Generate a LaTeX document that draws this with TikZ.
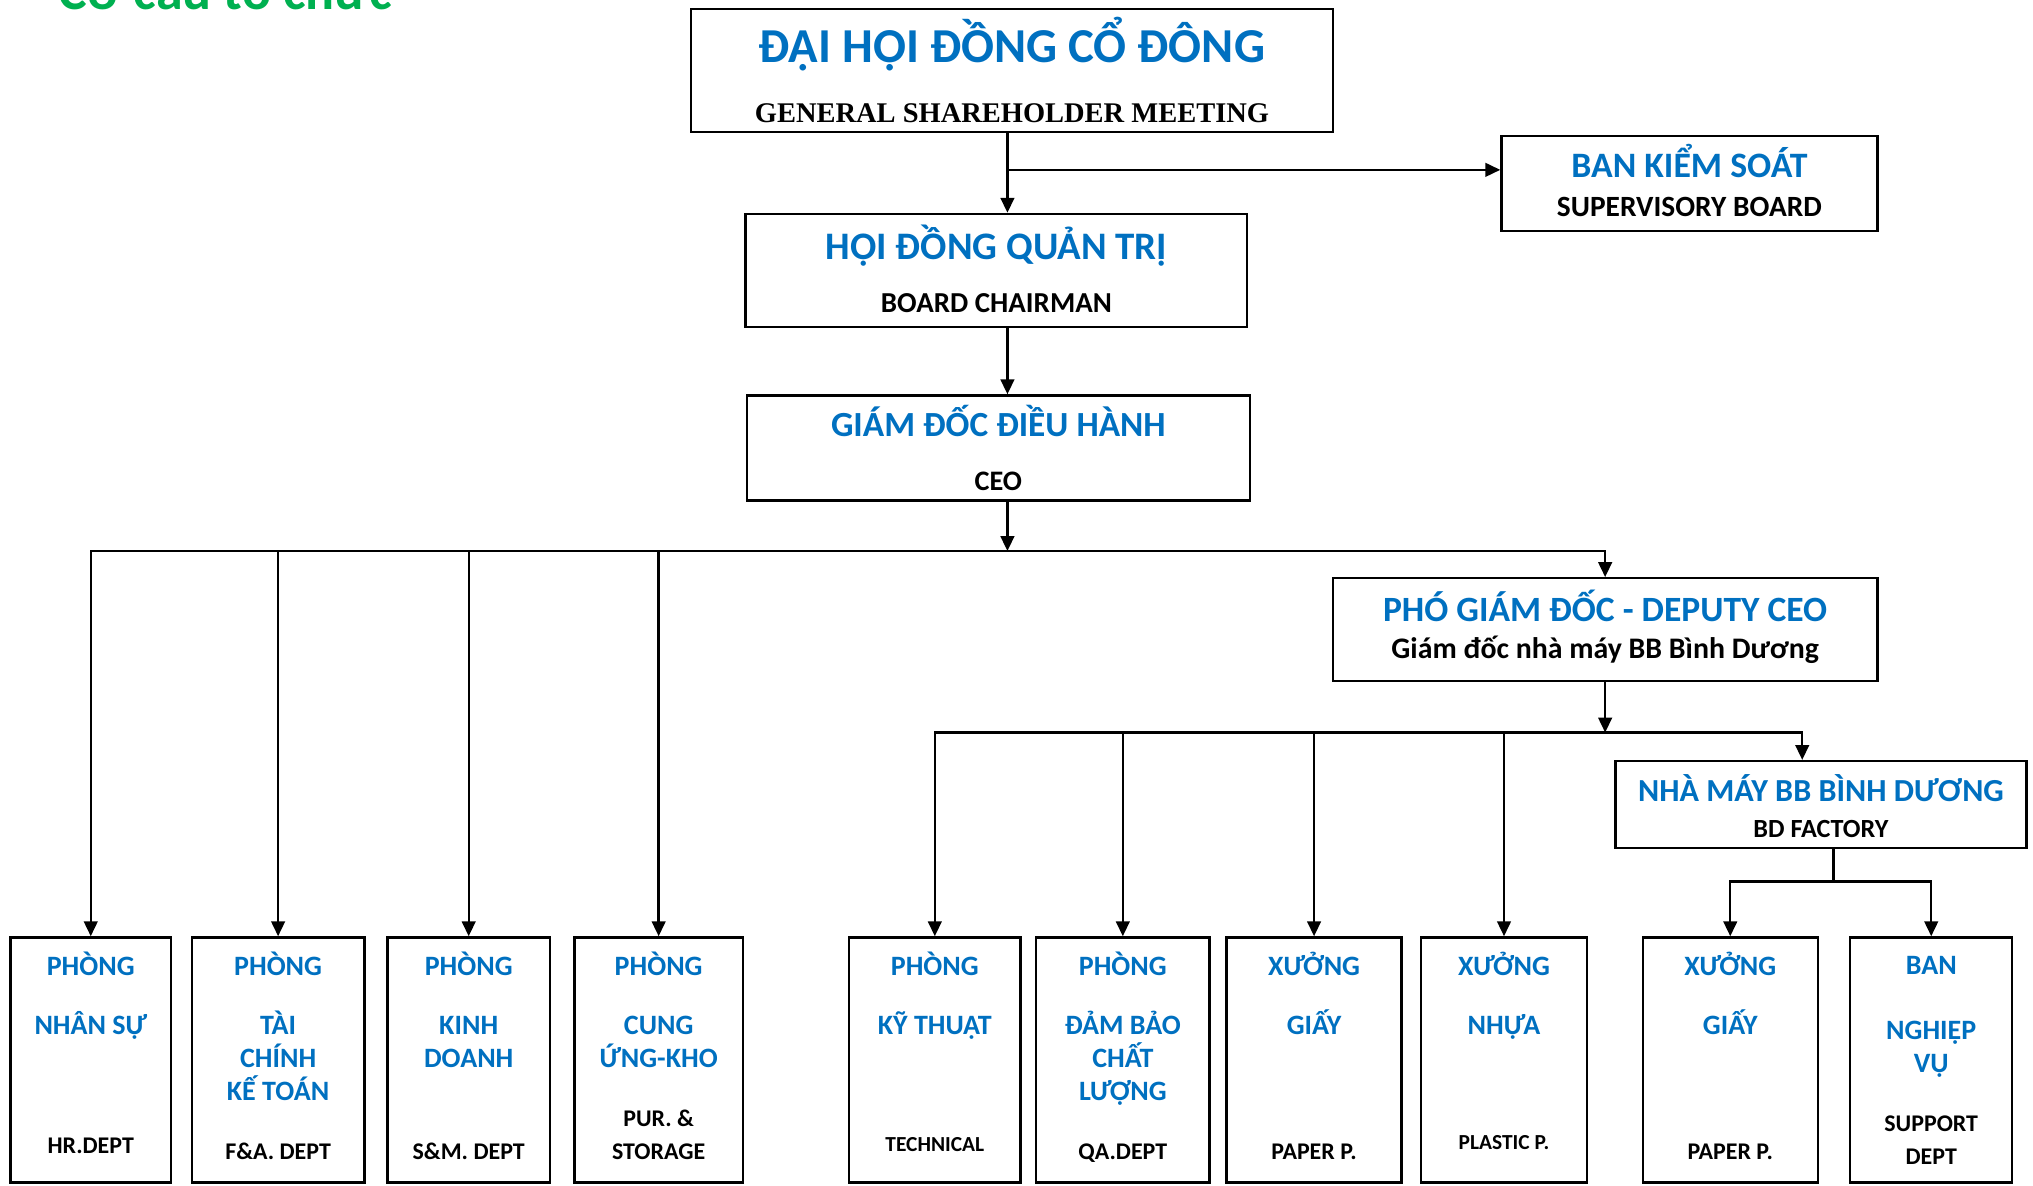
\documentclass[tikz,border=0pt]{standalone}
\usepackage{fontspec}
\setmainfont{Carlito}
\newfontfamily\gsmserif{Liberation Serif}
\usepackage{xcolor}
\usetikzlibrary{arrows.meta,positioning}
\definecolor{hdblue}{RGB}{0,112,192}
\definecolor{hdgreen}{RGB}{0,176,80}

% text block of a box: top part, \vfill, bottom part
\newcommand{\inbox}[4]{\vbox to #2{\hsize=#1\parskip=0pt\centering #3\par\vfill #4\par\kern0pt}}
\newcommand{\upstrut}[1]{\rule{0pt}{#1}}
\newcommand{\dnstrut}[1]{\rule[-#1]{0pt}{#1}}
\newcommand{\bluefont}[1]{\fontsize{#1}{14.5}\selectfont\bfseries\color{hdblue}}
\newcommand{\engfont}[1]{\fontsize{#1}{14.6}\selectfont\bfseries\color{black}}

\begin{document}
\begin{tikzpicture}[
		x=0.02cm, y=-0.02cm,
		>={Triangle[length=2.3mm,width=2.1mm]},
		org/.style={draw, line width=1.05pt, inner sep=0pt},
		flow/.style={->, line width=1.05pt},
		link/.style={line width=1.05pt}
		]
		\useasboundingbox (0,0) rectangle (1568,914);
		\node[anchor=base west, inner sep=0pt, text=hdgreen, font=\fontsize{23.7}{25}\selectfont\bfseries] (title) at (45,7) {Cơ cấu tổ chức};
		
		% top of the chart
		\node[org, minimum width=9.9cm] (gsm) at (780.5,54.5) {\inbox{9.5cm}{1.9cm}{\upstrut{0.82cm}\bluefont{21.4}\smash{ĐẠI HỘI ĐỒNG CỔ ĐÔNG}}{\engfont{12.5}\gsmserif GENERAL SHAREHOLDER MEETING\dnstrut{0.15cm}}};
		\node[org, minimum width=5.8cm] (sup) at (1303,141.5) {\inbox{5.5cm}{1.46cm}{\upstrut{0.64cm}\bluefont{15.7}\smash{BAN KIỂM SOÁT}}{\engfont{12.9}SUPERVISORY BOARD\dnstrut{0.22cm}}};
		\node[org, minimum width=7.74cm] (hdqt) at (768.5,208.5) {\inbox{7.4cm}{1.74cm}{\upstrut{0.7cm}\bluefont{17.1}\smash{HỘI ĐỒNG QUẢN TRỊ}}{\engfont{12.7}BOARD CHAIRMAN\dnstrut{0.22cm}}};
		\node[org, minimum width=7.76cm] (ceo) at (770,345.5) {\inbox{7.4cm}{1.62cm}{\upstrut{0.64cm}\bluefont{15.5}\smash{GIÁM ĐỐC ĐIỀU HÀNH}}{\engfont{12.4}CEO\dnstrut{0.16cm}}};
		\node[org, minimum width=8.4cm] (dep) at (1238,485.5) {\inbox{8.1cm}{1.58cm}{\upstrut{0.66cm}\bluefont{15.6}\smash{PHÓ GIÁM ĐỐC - DEPUTY CEO}}{\engfont{13.1}Giám đốc nhà máy BB Bình Dương\dnstrut{0.34cm}}};
		\node[org, minimum width=6.34cm] (fac) at (1404.5,620.5) {\inbox{6.1cm}{1.34cm}{\upstrut{0.62cm}\bluefont{14.1}\smash{NHÀ MÁY BB BÌNH DƯƠNG}}{\engfont{11.5}BD FACTORY\dnstrut{0.16cm}}};
		
		% departments
		\node[org, minimum width=2.48cm] (hr) at (70,817.5) {\inbox{2.3cm}{3.78cm}{\upstrut{0.58cm}\bluefont{12.3}\smash{PHÒNG}\\[11.7pt]NHÂN SỰ}{\engfont{10.5}HR.DEPT\dnstrut{0.45cm}}};
		\node[org, minimum width=2.66cm] (fa) at (214.5,817.5) {\inbox{2.3cm}{3.78cm}{\upstrut{0.58cm}\bluefont{12.3}\smash{PHÒNG}\\[11.7pt]TÀI\\CHÍNH\\KẾ TOÁN}{\engfont{10.5}F\&A. DEPT\dnstrut{0.35cm}}};
		\node[org, minimum width=2.5cm] (sm) at (361.5,817.5) {\inbox{2.3cm}{3.78cm}{\upstrut{0.58cm}\bluefont{12.3}\smash{PHÒNG}\\[11.7pt]KINH\\DOANH}{\engfont{10.5}S\&M. DEPT\dnstrut{0.35cm}}};
		\node[org, minimum width=2.6cm] (pur) at (508,817.5) {\inbox{2.3cm}{3.78cm}{\upstrut{0.58cm}\bluefont{12.3}\smash{PHÒNG}\\[11.7pt]CUNG\\ỨNG-KHO}{\engfont{10.5}PUR. \&\\STORAGE\dnstrut{0.35cm}}};
		\node[org, minimum width=2.64cm] (tech) at (721,817.5) {\inbox{2.3cm}{3.78cm}{\upstrut{0.58cm}\bluefont{12.3}\smash{PHÒNG}\\[11.7pt]KỸ THUẬT}{\engfont{9.4}TECHNICAL\dnstrut{0.48cm}}};
		\node[org, minimum width=2.68cm] (qa) at (866,817.5) {\inbox{2.3cm}{3.78cm}{\upstrut{0.58cm}\bluefont{12.3}\smash{PHÒNG}\\[11.7pt]ĐẢM BẢO\\CHẤT\\LƯỢNG}{\engfont{10.5}QA.DEPT\dnstrut{0.35cm}}};
		\node[org, minimum width=2.7cm] (pp) at (1013.5,817.5) {\inbox{2.3cm}{3.78cm}{\upstrut{0.58cm}\bluefont{12.3}\smash{XƯỞNG}\\[11.7pt]GIẤY}{\engfont{10.5}PAPER P.\dnstrut{0.35cm}}};
		\node[org, minimum width=2.56cm] (pl) at (1160,817.5) {\inbox{2.3cm}{3.78cm}{\upstrut{0.58cm}\bluefont{12.3}\smash{XƯỞNG}\\[11.7pt]NHỰA}{\engfont{9.4}PLASTIC P.\dnstrut{0.51cm}}};
		\node[org, minimum width=2.7cm] (pp2) at (1334.5,817.5) {\inbox{2.3cm}{3.78cm}{\upstrut{0.58cm}\bluefont{12.3}\smash{XƯỞNG}\\[11.7pt]GIẤY}{\engfont{10.5}PAPER P.\dnstrut{0.35cm}}};
		\node[org, minimum width=2.5cm] (spt) at (1489.5,817.5) {\inbox{2.3cm}{3.78cm}{\upstrut{0.57cm}\bluefont{12.3}\smash{BAN}\\[14.2pt]NGHIỆP\\VỤ}{\engfont{10.5}SUPPORT\\DEPT\dnstrut{0.27cm}}};
		
		% junctions
		\coordinate (j1) at (777,131);
		\coordinate (j2) at (777,425);
		\coordinate (j3) at (1238,565);
		\coordinate (j4) at (1414,680);
		
		\draw[flow] (gsm.south -| j1) -- (hdqt.north -| j1);
		\draw[flow] (j1) -- (sup.west |- j1);
		\draw[flow] (hdqt.south -| j1) -- (ceo.north -| j1);
		\draw[flow] (ceo.south -| j2) -- (j2);
		\draw[<->, line width=1.05pt] (hr.north) |- (j2) -| (dep.north);
		\draw[flow] (fa.north |- j2) -- (fa.north);
		\draw[flow] (sm.north |- j2) -- (sm.north);
		\draw[flow] (pur.north |- j2) -- (pur.north);
		\draw[flow] (dep.south) -- (j3);
		\draw[<->, line width=1.05pt] (tech.north) |- (j3) -| ([xshift=-0.29cm]fac.north);
		\draw[flow] (qa.north |- j3) -- (qa.north);
		\draw[flow] (pp.north |- j3) -- (pp.north);
		\draw[flow] (pl.north |- j3) -- (pl.north);
		\draw[link] (fac.south -| j4) -- (j4);
		\draw[<->, line width=1.05pt] (pp2.north) |- (j4) -| (spt.north);
	\end{tikzpicture}
\end{document}
